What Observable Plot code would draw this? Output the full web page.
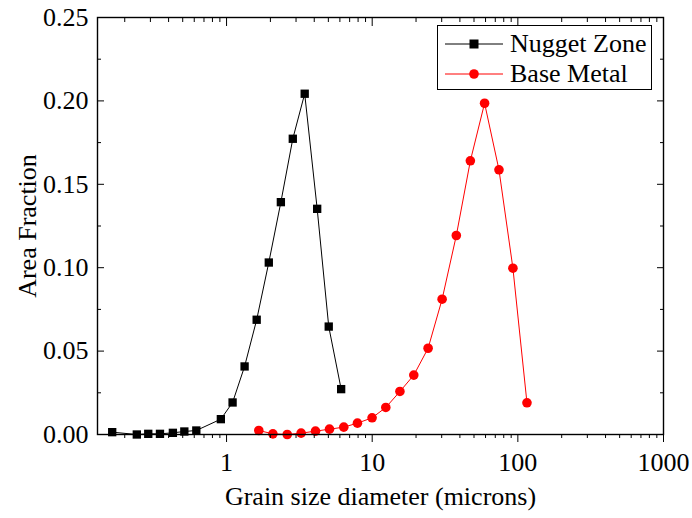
<!DOCTYPE html>
<html>
<head>
<meta charset="utf-8">
<script src="https://cdn.jsdelivr.net/npm/d3@7"></script>
<script src="https://cdn.jsdelivr.net/npm/@observablehq/plot@0.6"></script>
<style>
  body { margin: 0; background: #fff; }
  #wrap { position: relative; width: 692px; height: 518px; font-family: 'Liberation Serif', 'Times New Roman', serif; }
  #legend { position: absolute; left: 437px; top: 25px; width: 213px; height: 63px; border: 1px solid #000; background: #fff; }
  .lrow { position: absolute; left: 0; height: 30px; width: 213px; }
  .lrow svg { position: absolute; left: 7px; top: 0; }
  .lrow span { position: absolute; left: 72px; top: 0; font-family: 'Liberation Serif', 'Times New Roman', serif; font-size: 26px; line-height: 30px; color: #000; white-space: nowrap; }
</style>
</head>
<body>
<div id="wrap"></div>
<script>
// ---- data ----
const nuggetX = [0.164, 0.242, 0.290, 0.349, 0.428, 0.513, 0.620, 0.914, 1.10, 1.33, 1.61, 1.95, 2.36, 2.85, 3.44, 4.19, 5.03, 6.12];
const nuggetY = [0.0014, 0.0000, 0.0004, 0.0004, 0.0010, 0.0018, 0.0024, 0.0092, 0.0192, 0.0408, 0.0688, 0.1031, 0.1393, 0.1773, 0.2043, 0.1353, 0.0647, 0.0272];
const baseX = [1.665, 2.08, 2.61, 3.25, 4.08, 5.09, 6.38, 7.92, 9.98, 12.4, 15.5, 19.3, 24.2, 30.2, 37.8, 47.2, 59.1, 74.2, 92.5, 115.5];
const baseY = [0.0024, 0.0004, 0.0000, 0.0008, 0.0020, 0.0032, 0.0044, 0.0068, 0.0100, 0.0162, 0.0258, 0.0356, 0.0517, 0.0811, 0.1193, 0.1641, 0.1986, 0.1587, 0.0997, 0.0190];

const seriesNames = ["Nugget Zone", "Base Metal"];
const seriesColors = ["#000000", "#ff0000"];
const xMajorTicks = [1, 10, 100, 1000];
const xMinorTicks = [0.2, 0.3, 0.4, 0.5, 0.6, 0.7, 0.8, 0.9, 2, 3, 4, 5, 6, 7, 8, 9, 20, 30, 40, 50, 60, 70, 80, 90, 200, 300, 400, 500, 600, 700, 800, 900];
const yMajorTicks = [0, 0.05, 0.10, 0.15, 0.20, 0.25];
const yMinorTicks = [0.025, 0.075, 0.125, 0.175, 0.225];
const xDomain = [0.13, 1000];
const yDomain = [0, 0.25];
const xTitle = "Grain size diameter (microns)";
const yTitle = "Area Fraction";

const nugget = nuggetX.map((x, i) => ({x, y: nuggetY[i]}));
const base = baseX.map((x, i) => ({x, y: baseY[i]}));

const FONT = 26;
const FAMILY = "Liberation Serif";

const chart = Plot.plot({
  width: 692,
  height: 518,
  marginLeft: 97,
  marginRight: 29,
  marginTop: 17,
  marginBottom: 84,
  style: {fontFamily: FAMILY, fontSize: FONT + "px", background: "white", color: "black", overflow: "visible"},
  x: {type: "log", domain: xDomain},
  y: {domain: yDomain},
  marks: [
    Plot.line(nugget, {x: "x", y: "y", stroke: seriesColors[0], strokeWidth: 1}),
    Plot.dot(nugget, {x: "x", y: "y", symbol: "square", r: 4.7, fill: seriesColors[0], stroke: "none"}),
    Plot.line(base, {x: "x", y: "y", stroke: seriesColors[1], strokeWidth: 1}),
    Plot.dot(base, {x: "x", y: "y", symbol: "circle", r: 4.8, fill: seriesColors[1], stroke: "none"}),

    Plot.axisX({anchor: "bottom", ticks: xMajorTicks, tickSize: 8, tickPadding: 10, tickFormat: d => String(d), label: null, fontSize: FONT, fontFamily: FAMILY, fontVariant: "normal"}),
    Plot.axisX({anchor: "bottom", ticks: xMinorTicks, tickSize: 4, fill: "none", label: null}),
    Plot.axisX({anchor: "top", ticks: xMajorTicks, tickSize: -8, fill: "none", label: null}),
    Plot.axisX({anchor: "top", ticks: xMinorTicks, tickSize: -4, fill: "none", label: null}),

    Plot.axisY({anchor: "left", ticks: yMajorTicks, tickSize: 0, tickPadding: 9, tickFormat: d3.format(".2f"), label: null, fontSize: FONT, fontFamily: FAMILY, fontVariant: "normal"}),
    Plot.axisY({anchor: "left", ticks: yMajorTicks, tickSize: -7, fill: "none", label: null}),
    Plot.axisY({anchor: "left", ticks: yMinorTicks, tickSize: -4, fill: "none", label: null}),
    Plot.axisY({anchor: "right", ticks: yMajorTicks, tickSize: -7, fill: "none", label: null}),
    Plot.axisY({anchor: "right", ticks: yMinorTicks, tickSize: -4, fill: "none", label: null}),

    Plot.text([xTitle], {frameAnchor: "bottom", text: d => d, dy: 62, textAnchor: "middle", lineAnchor: "middle", fontSize: FONT, fontFamily: FAMILY, fill: "black"}),
    Plot.text([yTitle], {frameAnchor: "left", text: d => d, dx: -70, rotate: -90, textAnchor: "middle", lineAnchor: "middle", fontSize: FONT, fontFamily: FAMILY, fill: "black"}),

    Plot.frame({stroke: "black", strokeWidth: 1.4})
  ]
});

const wrap = document.getElementById("wrap");
wrap.appendChild(chart);

// legend
const legend = document.createElement("div");
legend.id = "legend";
seriesNames.forEach((name, i) => {
  const row = document.createElement("div");
  row.className = "lrow";
  row.style.top = (3 + i * 30) + "px";
  const c = seriesColors[i];
  const sym = i === 0
    ? `<rect x="24.5" y="10.5" width="9" height="9" fill="${c}"/>`
    : `<circle cx="29" cy="15" r="4.8" fill="${c}"/>`;
  row.innerHTML = `<svg width="58" height="30"><line x1="0" y1="15" x2="58" y2="15" stroke="${c}" stroke-width="1"/>${sym}</svg><span>${name}</span>`;
  legend.appendChild(row);
});
wrap.appendChild(legend);
</script>
</body>
</html>
